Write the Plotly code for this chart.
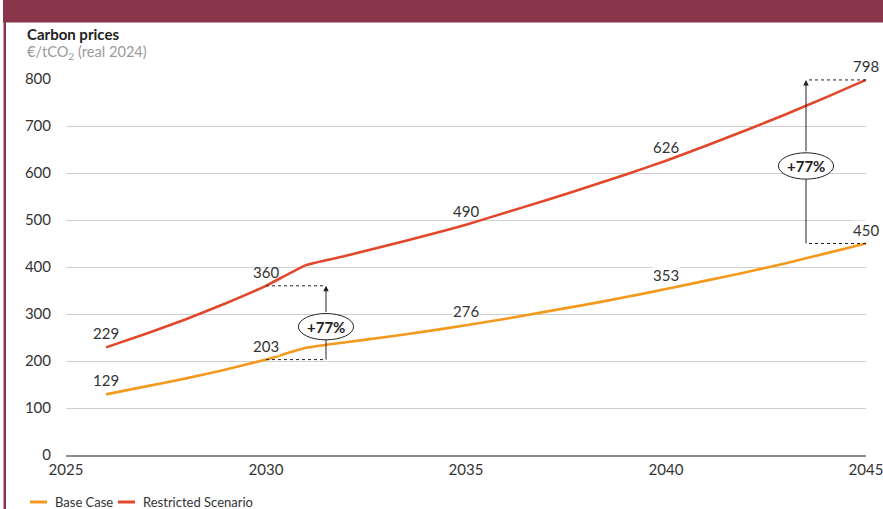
import plotly.graph_objects as go

# Carbon price trajectories, €/tCO2 (real 2024)
years = list(range(2026, 2046))
base_case = [129, 146, 163, 182, 203, 228, 240, 251, 263, 276,
             290, 305, 320, 336, 353, 371, 389, 408, 429, 450]
restricted = [229, 258, 289, 323, 360, 404, 424, 445, 467, 490,
              516, 542, 569, 597, 626, 658, 691, 725, 761, 798]

label_years = [2026, 2030, 2035, 2040, 2045]
series_names = ["Base Case", "Restricted Scenario"]
series_colors = ["#F39A1E", "#E2472B"]

gap_label = "+77%"

W, H = 883, 509
L, R, T, B = 66, 17, 79, 54
PW, PH = W - L - R, H - T - B


def px_x(px):
    return (px - L) / PW


def px_y(py):
    return (H - B - py) / PH


FONT = "Lato, 'Open Sans', sans-serif"
TXT = "#333333"

fig = go.Figure()
for name, vals, col in zip(series_names, [base_case, restricted], series_colors):
    fig.add_trace(go.Scatter(
        x=years, y=vals, mode="lines", name=name,
        line=dict(color=col, width=2.6, shape="spline", smoothing=0.4),
        showlegend=False, hoverinfo="x+y",
    ))

annotations = []
shapes = []

# Value labels above selected points; base-case labels knock out the grid behind them
for vals, bg in ((base_case, "white"), (restricted, "rgba(0,0,0,0)")):
    for yr in label_years:
        v = vals[years.index(yr)]
        annotations.append(dict(
            x=yr, y=v, xref="x", yref="y", text=str(v), showarrow=False,
            yshift=14, font=dict(family=FONT, size=15, color=TXT),
            bgcolor=bg, borderpad=0,
        ))


def gap_callout(x_arrow, x_from, lo, hi, mid):
    # dotted guides from the data points to the arrow
    for v in (lo, hi):
        shapes.append(dict(type="line", xref="x", yref="y", x0=x_from, x1=x_arrow,
                           y0=v, y1=v, line=dict(color="#222222", width=1, dash="dot"),
                           layer="above"))
    half_h = 28
    half_w = 0.69
    # shaft below the ellipse
    shapes.append(dict(type="line", xref="x", yref="y", x0=x_arrow, x1=x_arrow,
                       y0=lo, y1=mid - half_h, line=dict(color="#222222", width=1),
                       layer="above"))
    shapes.append(dict(type="circle", xref="x", yref="y",
                       x0=x_arrow - half_w, x1=x_arrow + half_w,
                       y0=mid - half_h, y1=mid + half_h,
                       line=dict(color="#222222", width=1), fillcolor="white",
                       layer="above"))
    # shaft above the ellipse ending in an arrowhead
    annotations.append(dict(x=x_arrow, y=hi, ax=x_arrow, ay=mid + half_h,
                            xref="x", yref="y", axref="x", ayref="y", text="",
                            showarrow=True, arrowhead=2, arrowsize=1.1,
                            arrowwidth=1, arrowcolor="#222222", standoff=0))
    annotations.append(dict(x=x_arrow, y=mid, xref="x", yref="y",
                            text="<b>" + gap_label + "</b>", showarrow=False,
                            font=dict(family=FONT, size=15, color="#222222")))


i30 = years.index(2030)
i45 = years.index(2045)
gap_callout(2031.5, 2030, base_case[i30], restricted[i30], 273)
gap_callout(2043.5, 2045, base_case[i45], restricted[i45], 615)

# Header band and left frame
shapes.append(dict(type="rect", xref="paper", yref="paper",
                   x0=px_x(3), x1=px_x(W + 2), y0=px_y(22.5), y1=px_y(-2),
                   line=dict(width=0), fillcolor="#8A354A", layer="above"))
shapes.append(dict(type="rect", xref="paper", yref="paper",
                   x0=px_x(3.5), x1=px_x(6), y0=px_y(H + 2), y1=px_y(0),
                   line=dict(width=0), fillcolor="#8A354A", layer="above"))

# Axis title block
annotations.append(dict(xref="paper", yref="paper", x=px_x(24.5), y=px_y(34.5),
                        xanchor="left", yanchor="middle", showarrow=False,
                        text="<b>Carbon prices</b>",
                        font=dict(family=FONT, size=15, color="#222222")))
annotations.append(dict(xref="paper", yref="paper", x=px_x(24.5), y=px_y(52.5),
                        xanchor="left", yanchor="middle", showarrow=False,
                        text="€/tCO<sub>2</sub> (real 2024)",
                        font=dict(family=FONT, size=14.6, color="#9A9A9A")))

# Legend built from line swatches and text
leg_y = px_y(502)
for (x0, x1, tx), name, col in zip([(30, 47, 53), (118, 135, 141)], series_names, series_colors):
    shapes.append(dict(type="line", xref="paper", yref="paper", x0=px_x(x0), x1=px_x(x1),
                       y0=leg_y, y1=leg_y, line=dict(color=col, width=3)))
    annotations.append(dict(xref="paper", yref="paper", x=px_x(tx), y=leg_y,
                            xanchor="left", yanchor="middle", showarrow=False, text=name,
                            font=dict(family=FONT, size=13, color=TXT)))

fig.update_layout(
    width=W, height=H,
    margin=dict(l=L, r=R, t=T, b=B, pad=0, autoexpand=False),
    paper_bgcolor="white", plot_bgcolor="white",
    font=dict(family=FONT, size=15, color=TXT),
    xaxis=dict(range=[2025, 2045], tickvals=[2025, 2030, 2035, 2040, 2045],
               showgrid=False, zeroline=False, showline=True, linecolor="#8C8C8C",
               linewidth=1.5, ticks="", ticklabeloverflow="allow", automargin=False,
               tickfont=dict(family=FONT, size=15, color=TXT), fixedrange=True),
    yaxis=dict(range=[0, 800], tickvals=list(range(0, 801, 100)), showgrid=True,
               gridcolor="#CFCFCF", gridwidth=1, zeroline=False, showline=False,
               ticks="", ticklabelstandoff=14, automargin=False,
               tickfont=dict(family=FONT, size=15, color=TXT), fixedrange=True),
    shapes=shapes, annotations=annotations,
    showlegend=False,
)

fig.write_html("out.html")
